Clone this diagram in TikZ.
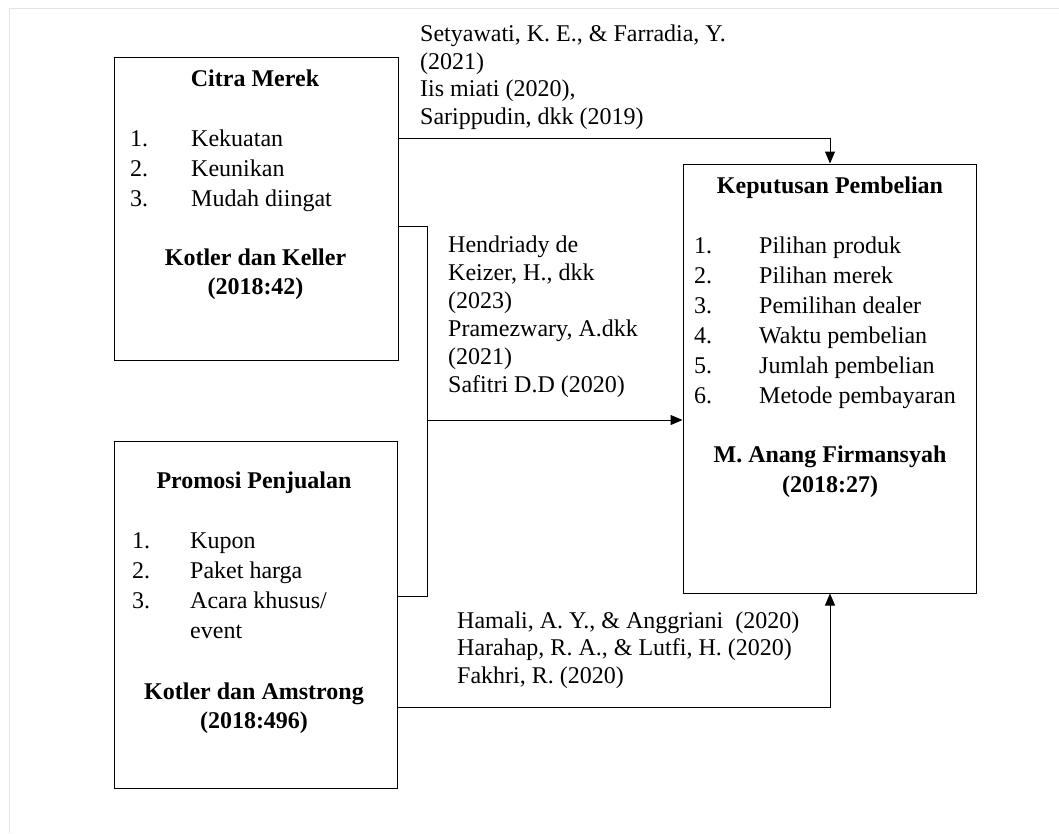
\documentclass[tikz,border=0pt]{standalone}
\usepackage{fontspec}
\setmainfont{Liberation Serif}
\usetikzlibrary{arrows.meta}
\begin{document}
\begin{tikzpicture}[x=1pt,y=-1pt,
  txt/.style={anchor=base west, inner sep=0pt, font=\fontsize{24}{30}\selectfont},
  ttl/.style={anchor=base, inner sep=0pt, font=\fontsize{24}{30}\selectfont\bfseries},
  box/.style={draw, line width=1pt, inner sep=0pt, rectangle},
  conn/.style={line width=1pt},
  arr/.style={line width=1pt, -{Triangle[length=12pt,width=10pt]}},
  frame/.style={draw=gray!22, line width=1pt}]
\useasboundingbox (0,0) rectangle (1059,833);
\draw[frame] (9,833) -- (9,8) -- (1059,8);
% boxes
\node[box, minimum width=284pt, minimum height=303pt] (citra) at (256,208.5) {};
\node[box, minimum width=293pt, minimum height=429pt] (kep) at (829.5,378.5) {};
\node[box, minimum width=283pt, minimum height=347pt] (promo) at (255.5,614.5) {};
% Citra Merek
\node[ttl] (c0) at (255,86) {Citra Merek};
\node[txt] (c1n) at (130,146) {1.}; \node[txt] (c1) at (191,146) {Kekuatan};
\node[txt] (c2n) at (130,176) {2.}; \node[txt] (c2) at (191,176) {Keunikan};
\node[txt] (c3n) at (130,206) {3.}; \node[txt] (c3) at (191,206) {Mudah diingat};
\node[ttl] (c4) at (255.5,265) {Kotler dan Keller};
\node[ttl] (c5) at (255.5,294) {(2018:42)};
% Keputusan Pembelian
\node[ttl] (k0) at (830,193) {Keputusan Pembelian};
\node[txt] (k1n) at (694,253) {1.}; \node[txt] (k1) at (759,253) {Pilihan produk};
\node[txt] (k2n) at (694,283) {2.}; \node[txt] (k2) at (759,283) {Pilihan merek};
\node[txt] (k3n) at (694,313) {3.}; \node[txt] (k3) at (759,313) {Pemilihan dealer};
\node[txt] (k4n) at (694,343) {4.}; \node[txt] (k4) at (759,343) {Waktu pembelian};
\node[txt] (k5n) at (694,373) {5.}; \node[txt] (k5) at (759,373) {Jumlah pembelian};
\node[txt] (k6n) at (694,403) {6.}; \node[txt] (k6) at (759,403) {Metode pembayaran};
\node[ttl] (k7) at (830,462) {M. Anang Firmansyah};
\node[ttl] (k8) at (830,492) {(2018:27)};
% Promosi Penjualan
\node[ttl] (p0) at (254,488) {Promosi Penjualan};
\node[txt] (p1n) at (132,548) {1.}; \node[txt] (p1) at (190,548) {Kupon};
\node[txt] (p2n) at (132,578) {2.}; \node[txt] (p2) at (190,578) {Paket harga};
\node[txt] (p3n) at (132,608) {3.}; \node[txt] (p3) at (190,608) {Acara khusus/};
\node[txt] (p3b) at (190,638) {event};
\node[ttl] (p4) at (254,699) {Kotler dan Amstrong};
\node[ttl] (p5) at (254,728) {(2018:496)};
% top references
\node[txt] (t1) at (420,41) {Setyawati, K. E., \& Farradia, Y.};
\node[txt] (t2) at (420,69) {(2021)};
\node[txt] (t3) at (420,96) {Iis miati (2020),};
\node[txt] (t4) at (420,124) {Sarippudin, dkk (2019)};
% middle references
\node[txt] (m1) at (448,252) {Hendriady de};
\node[txt] (m2) at (448,280) {Keizer, H., dkk};
\node[txt] (m3) at (448,308) {(2023)};
\node[txt] (m4) at (448,336) {Pramezwary,\ A.dkk};
\node[txt] (m5) at (448,364) {(2021)};
\node[txt] (m6) at (448,392) {Safitri D.D (2020)};
% bottom references
\node[txt] (b1) at (457,628) {Hamali, A. Y., \& Anggriani~ (2020)};
\node[txt] (b2) at (457,655.5) {Harahap, R. A., \& Lutfi, H. (2020)};
\node[txt] (b3) at (457,683) {Fakhri, R. (2020)};
% connectors
\coordinate (ta) at (830,138);
\draw[arr] (citra.east |- ta) -- (ta) -- (kep.north -| ta);
\coordinate (ma) at (427,226);
\coordinate (mb) at (427,596);
\coordinate (mc) at (427,420);
\draw[conn] (citra.east |- ma) -- (ma) -- (mb) -- (promo.east |- mb);
\draw[arr] (mc) -- (kep.west |- mc);
\coordinate (ba) at (830,707);
\draw[arr] (promo.east |- ba) -- (ba) -- (kep.south -| ba);
\end{tikzpicture}
\end{document}
